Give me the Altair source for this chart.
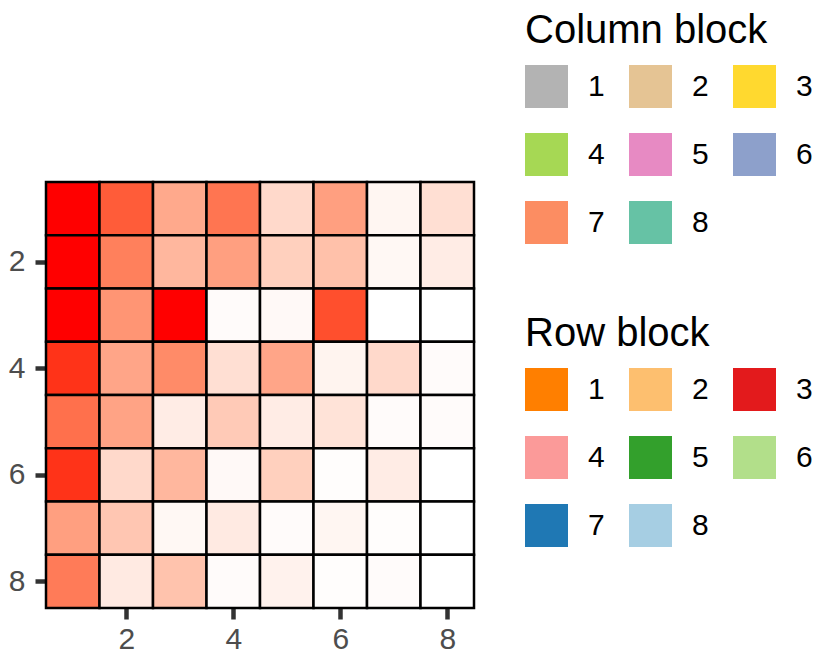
import altair as alt
import pandas as pd

rows = [1, 2, 3, 4, 5, 6, 7, 8]
cols = [1, 2, 3, 4, 5, 6, 7, 8]
values = [
    [1.00, 0.80, 0.45, 0.70, 0.20, 0.50, 0.05, 0.17],
    [1.00, 0.65, 0.38, 0.50, 0.25, 0.33, 0.04, 0.10],
    [1.00, 0.55, 1.00, 0.02, 0.03, 0.85, 0.00, 0.00],
    [0.93, 0.47, 0.60, 0.17, 0.47, 0.06, 0.20, 0.02],
    [0.72, 0.48, 0.10, 0.28, 0.10, 0.15, 0.02, 0.02],
    [0.93, 0.20, 0.38, 0.03, 0.25, 0.01, 0.10, 0.00],
    [0.50, 0.30, 0.04, 0.11, 0.02, 0.05, 0.01, 0.00],
    [0.67, 0.11, 0.32, 0.02, 0.07, 0.01, 0.02, 0.00],
]

col_block_labels = ["1", "2", "3", "4", "5", "6", "7", "8"]
col_block_colors = ["#B3B3B3", "#E5C494", "#FFD92F", "#A6D854",
                    "#E78AC3", "#8DA0CB", "#FC8D62", "#66C2A5"]
row_block_labels = ["1", "2", "3", "4", "5", "6", "7", "8"]
row_block_colors = ["#FF7F00", "#FDBF6F", "#E31A1C", "#FB9A99",
                    "#33A02C", "#B2DF8A", "#1F78B4", "#A6CEE3"]

records = []
for i, r in enumerate(rows):
    for j, c in enumerate(cols):
        records.append({"row": r, "col": c, "r0": r - 0.5, "r1": r + 0.5,
                        "c0": c - 0.5, "c1": c + 0.5, "value": values[i][j]})
df = pd.DataFrame(records)

col_df = pd.DataFrame({"block": col_block_labels, "x": 1, "y": 1})
row_df = pd.DataFrame({"block": row_block_labels, "x": 1, "y": 1})

FONT = "Liberation Sans"

xscale = alt.Scale(domain=[0.5, 8.5], nice=False, zero=False)
yscale = alt.Scale(domain=[8.5, 0.5], nice=False, zero=False)

xaxis = alt.Axis(values=[2, 4, 6, 8], title=None, grid=False, domain=False,
                 tickColor="#333333", tickWidth=4.5, tickSize=11,
                 labelColor="#4D4D4D", labelFontSize=30, labelFont=FONT,
                 labelPadding=5)
yaxis = alt.Axis(values=[2, 4, 6, 8], title=None, grid=False, domain=False,
                 tickColor="#333333", tickWidth=4.5, tickSize=11,
                 labelColor="#4D4D4D", labelFontSize=30, labelFont=FONT,
                 labelPadding=10)

def legend_props(title, ly):
    return alt.Legend(
        title=title, orient="none", legendX=479, legendY=ly,
        columns=3, direction="horizontal", symbolType="square", symbolSize=1849,
        symbolStrokeWidth=0, symbolOpacity=1,
        titleFontSize=40, titleFont=FONT, titleFontWeight="normal",
        titleColor="black", titlePadding=14, titleLimit=500,
        labelFontSize=30, labelFont=FONT, labelColor="black",
        labelOffset=20, columnPadding=24, rowPadding=25,
    )

col_layer = alt.Chart(col_df).mark_square(size=10, opacity=1).encode(
    x=alt.X("x:Q", scale=xscale, axis=xaxis),
    y=alt.Y("y:Q", scale=yscale, axis=yaxis),
    color=alt.Color("block:N", sort=col_block_labels,
                    scale=alt.Scale(domain=col_block_labels, range=col_block_colors),
                    legend=legend_props("Column block", -171)),
)

row_layer = alt.Chart(row_df).mark_square(size=10, opacity=1).encode(
    x=alt.X("x:Q", scale=xscale),
    y=alt.Y("y:Q", scale=yscale),
    color=alt.Color("block:N", sort=row_block_labels,
                    scale=alt.Scale(domain=row_block_labels, range=row_block_colors),
                    legend=legend_props("Row block", 132)),
)

heat = alt.Chart(df).mark_rect(stroke="black", strokeWidth=2.5).encode(
    x=alt.X("c0:Q", scale=xscale),
    x2="c1:Q",
    y=alt.Y("r0:Q", scale=yscale),
    y2="r1:Q",
    color=alt.Color("value:Q",
                    scale=alt.Scale(domain=[0, 1], range=["#FFFFFF", "#FF0000"],
                                    interpolate="lab"),
                    legend=None),
)

chart = alt.layer(col_layer, row_layer, heat).resolve_scale(
    color="independent"
).properties(
    width=428, height=426, background="white",
    padding={"top": 3, "left": 0, "right": 0, "bottom": 0}
).configure_view(
    stroke="#333333", strokeWidth=2
)

chart.save("out.html", embed_options={"renderer": "svg", "actions": False})
